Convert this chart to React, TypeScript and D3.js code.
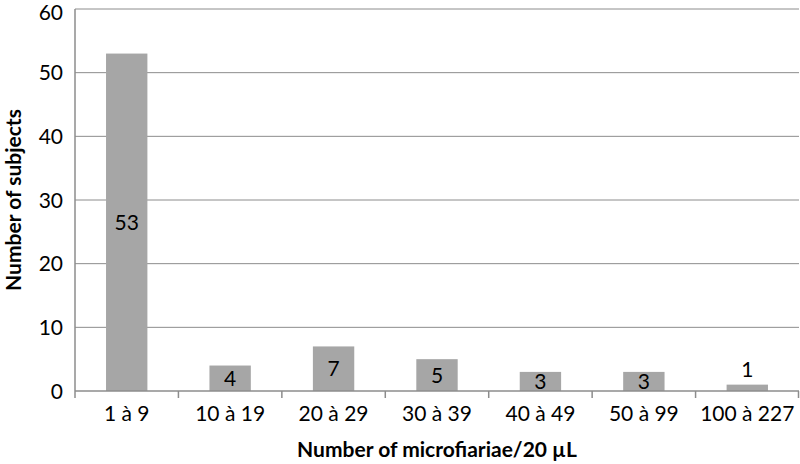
import React from "react";
import * as d3 from "d3";

const categories = ["1 à 9", "10 à 19", "20 à 29", "30 à 39", "40 à 49", "50 à 99", "100 à 227"];
const subjects = [53, 4, 7, 5, 3, 3, 1];
const yTicks = [0, 10, 20, 30, 40, 50, 60];

const W = 800, H = 464;
const left = 75, right = 799, top = 9, bottom = 391;
const FONT = "Lato, 'Open Sans', sans-serif";

export default function App() {
  const x = d3.scaleBand<string>().domain(categories).range([left, right]).paddingInner(0.6).paddingOuter(0.3);
  const xb = d3.scaleBand<string>().domain(categories).range([left, right]);
  const y = d3.scaleLinear().domain([0, 60]).range([bottom, top]);
  const grid = "#8c8c8c";
  return (
    <svg width={W} height={H} style={{ position: "absolute", left: 0, top: 0, background: "#fff" }} fontFamily={FONT}>
      {yTicks.map((t) => (
        <g key={t}>
          {t > 0 && <line x1={left} x2={right} y1={y(t)} y2={y(t)} stroke={grid} strokeWidth={1} />}
          <text x={63} y={Math.max(y(t), 12)} dy="0.36em" textAnchor="end" fontSize={21} fill="#000">{t}</text>
        </g>
      ))}
      {categories.map((c, i) => {
        const v = subjects[i];
        const bx = x(c)!;
        const bw = x.bandwidth();
        const cx = bx + bw / 2;
        const above = v < 2;
        const ly = above ? y(v) - 15 : (y(v) + y(0)) / 2;
        return (
          <g key={c}>
            <rect x={bx} y={y(v)} width={bw} height={y(0) - y(v)} fill="#a6a6a6" />
            <text x={cx} y={ly} dy="0.36em" textAnchor="middle" fontSize={21} fill="#000">{v}</text>
            <text x={xb(c)! + xb.bandwidth() / 2} y={413} dy="0.36em" textAnchor="middle" fontSize={21} fill="#000">{c}</text>
          </g>
        );
      })}
      <line x1={left} x2={left} y1={top} y2={bottom} stroke={grid} strokeWidth={1.5} />
      <line x1={left} x2={right} y1={bottom} y2={bottom} stroke={grid} strokeWidth={1.5} />
      {categories.map((c, i) => (
        <line key={"t" + i} x1={xb(c)!} x2={xb(c)!} y1={bottom} y2={bottom + 7} stroke={grid} strokeWidth={1.5} />
      ))}
      <line x1={right - 0.5} x2={right - 0.5} y1={bottom} y2={bottom + 7} stroke={grid} strokeWidth={1.5} />
      <text x={437} y={449} dy="0.36em" textAnchor="middle" fontSize={21} fontWeight="bold" fill="#000">Number of microfiariae/20 µL</text>
      <text transform={`translate(13,200) rotate(-90)`} dy="0.36em" textAnchor="middle" fontSize={21} fontWeight="bold" fill="#000">Number of subjects</text>
    </svg>
  );
}
